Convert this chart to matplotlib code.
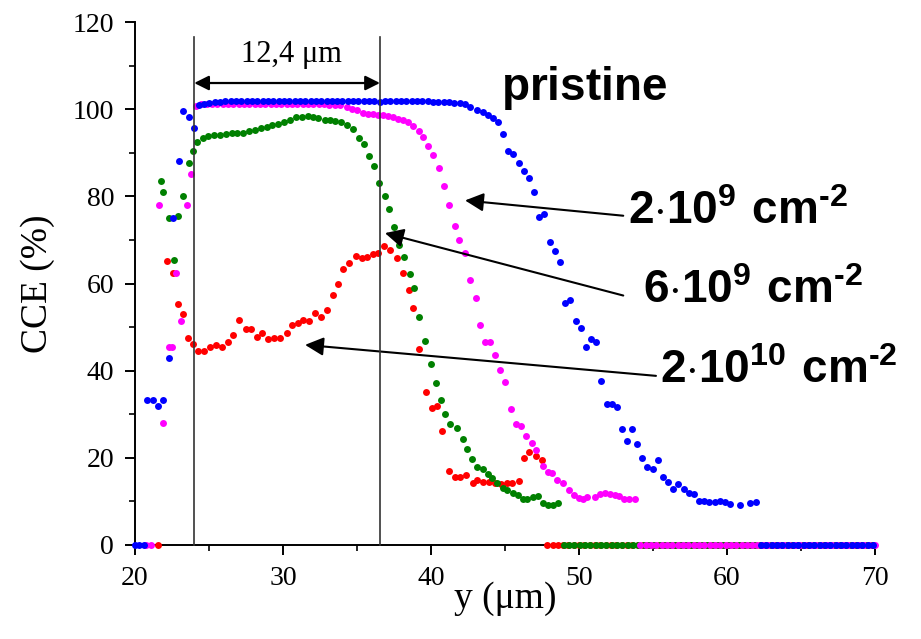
import matplotlib
matplotlib.use('Agg')
import matplotlib.pyplot as plt

# CCE profiles (x in um, CCE in %)
pristine_x = [20.83, 21.19, 21.55, 21.91, 22.27, 22.59, 22.97, 23.27, 23.65, 23.99,
              24.30, 24.66, 25.02, 25.38, 25.74, 26.10, 26.46, 26.82, 27.18, 27.54,
              27.90, 28.26, 28.62, 28.98, 29.34, 29.70, 30.06, 30.42, 30.78, 31.14,
              31.50, 31.86, 32.22, 32.58, 32.94, 33.30, 33.66, 34.02, 34.38, 34.74,
              35.10, 35.46, 35.82, 36.18, 36.54, 36.90, 37.26, 37.62, 37.98, 38.34,
              38.70, 39.06, 39.42, 39.78, 40.14, 40.50, 40.86, 41.22, 41.58, 41.94,
              42.30, 42.64, 43.09, 43.53, 43.87, 44.21, 44.50, 44.88, 45.22, 45.56,
              45.95, 46.28, 46.62, 46.96, 47.32, 47.64, 48.04, 48.40, 48.72, 49.05,
              49.39, 49.78, 50.11, 50.47, 50.79, 51.15, 51.51, 51.87, 52.21, 52.55,
              52.90, 53.24, 53.60, 53.94, 54.28, 54.62, 54.98, 55.32, 55.68, 56.02,
              56.38, 56.71, 57.07, 57.41, 57.75, 58.13, 58.47, 58.80, 59.17, 59.53,
              59.86, 60.22, 60.90, 61.58, 61.94]
pristine_y = [33.3, 33.3, 31.8, 33.3, 42.8, 75.0, 88.1, 99.5, 98.3, 95.7,
              101.0, 101.3, 101.5, 101.7, 101.7, 101.8, 101.8, 101.8, 101.8, 101.8,
              101.8, 101.8, 101.8, 101.8, 101.8, 101.8, 101.8, 101.8, 101.8, 101.8,
              101.8, 101.8, 101.8, 101.8, 101.8, 101.8, 101.8, 101.8, 101.8, 101.8,
              101.8, 101.8, 101.8, 101.8, 101.7, 101.8, 101.8, 101.8, 101.8, 101.8,
              101.8, 101.8, 101.8, 101.8, 101.7, 101.7, 101.7, 101.6, 101.5, 101.4,
              101.2, 100.5, 99.9, 99.3, 98.7, 98.0, 97.0, 94.3, 90.5, 89.8,
              87.6, 85.7, 84.2, 80.9, 75.2, 76.0, 69.5, 67.5, 65.0, 55.5,
              56.1, 51.3, 49.9, 45.5, 47.3, 46.5, 37.7, 32.4, 32.4, 31.6,
              26.7, 23.9, 26.6, 23.2, 20.0, 17.8, 17.4, 19.4, 15.5, 14.4,
              12.9, 13.9, 12.8, 11.9, 11.7, 10.1, 10.1, 9.9, 9.9, 10.2,
              9.9, 9.3, 9.1, 9.6, 9.9]
pristine_zero_x = [20.00, 20.30, 20.60,
                   62.30, 62.66, 63.02, 63.38, 63.74, 64.10, 64.46, 64.82, 65.18, 65.54,
                   65.90, 66.26, 66.62, 66.98, 67.34, 67.70, 68.06, 68.42, 68.78, 69.14,
                   69.50, 69.86]

f2e9_x = [21.64, 21.91, 22.27, 22.50, 22.77, 23.11, 23.51, 23.78, 24.12,
          24.48, 24.84, 25.20, 25.56, 25.92, 26.28, 26.64, 27.00, 27.36, 27.72,
          28.08, 28.44, 28.80, 29.16, 29.52, 29.88, 30.24, 30.60, 30.96, 31.32,
          31.68, 32.04, 32.40, 32.76, 33.12, 33.48, 33.84, 34.30, 34.66, 35.02,
          35.38, 35.74, 36.10, 36.44, 36.78, 37.10, 37.45, 37.80, 38.13, 38.47,
          38.80, 39.19, 39.48, 39.82, 40.11, 40.54, 40.88, 41.22, 41.62, 41.91,
          42.28, 42.64, 43.06, 43.31, 43.67, 43.99, 44.34, 44.66, 44.98, 45.43,
          45.74, 46.08, 46.42, 46.80, 47.09, 47.59, 47.93, 48.15, 48.54, 48.94,
          49.30, 49.66, 50.02, 50.29, 50.56, 51.06, 51.42, 51.76, 52.09, 52.43,
          52.72, 53.04, 53.40, 53.78]
f2e9_y = [78.1, 27.9, 45.4, 45.4, 62.5, 51.5, 77.9, 85.1, 100.8,
          101.2, 101.2, 101.3, 101.3, 101.3, 101.3, 101.3, 101.3, 101.3, 101.3,
          101.3, 101.3, 101.3, 101.3, 101.3, 101.3, 101.3, 101.2, 101.2, 101.2,
          101.2, 101.2, 101.1, 101.1, 101.0, 101.0, 100.9, 100.6, 100.1, 99.7,
          99.2, 99.0, 98.9, 98.7, 98.6, 98.4, 98.2, 97.7, 97.4, 97.0,
          96.2, 95.1, 93.6, 91.6, 89.4, 86.6, 82.3, 78.1, 73.1, 69.9,
          67.1, 60.7, 56.6, 50.4, 46.5, 46.5, 43.5, 40.1, 37.3, 31.2,
          27.8, 27.2, 24.9, 23.3, 21.8, 18.2, 16.8, 16.6, 14.9, 14.2,
          12.6, 11.5, 10.7, 10.6, 10.9, 11.1, 11.6, 12.0, 11.7, 11.4,
          11.3, 10.6, 10.6, 10.6]
f2e9_zero_x = [20.72, 21.08,
               54.14, 54.50, 54.86, 55.22, 55.58, 55.94, 56.30, 56.66, 57.02, 57.38,
               57.74, 58.10, 58.46, 58.82, 59.18, 59.54, 59.90, 60.26, 60.62, 60.98,
               61.34, 61.70, 62.06, 62.42, 62.78, 63.14, 63.50, 63.86, 64.22, 64.58,
               64.94, 65.30, 65.66, 66.02, 66.38, 66.74, 67.10, 67.46, 67.82, 68.18,
               68.54, 68.90, 69.26, 69.62, 69.98]

f6e9_x = [21.76, 21.91, 22.30, 22.61, 22.93, 23.27, 23.63, 23.94, 24.16, 24.57,
          24.95, 25.34, 25.74, 26.15, 26.53, 26.91, 27.32, 27.70, 28.11, 28.49,
          28.90, 29.28, 29.68, 30.07, 30.47, 30.86, 31.26, 31.71, 32.05, 32.39,
          32.84, 33.18, 33.51, 33.90, 34.30, 34.75, 35.16, 35.47, 35.79, 36.15,
          36.51, 36.89, 37.18, 37.50, 37.86, 38.18, 38.58, 38.87, 39.19, 39.59,
          39.98, 40.32, 40.68, 40.95, 41.28, 41.78, 42.14, 42.41, 42.75, 43.09,
          43.53, 43.87, 44.10, 44.43, 44.84, 45.15, 45.52, 45.86, 46.20, 46.51,
          46.87, 47.21, 47.55, 47.89, 48.22, 48.60]
f6e9_y = [83.6, 80.9, 75.0, 65.3, 75.6, 80.0, 87.7, 90.5, 92.4, 93.4,
          93.8, 94.0, 94.1, 94.3, 94.5, 94.5, 94.5, 94.9, 95.3, 95.7,
          96.0, 96.4, 96.6, 97.0, 97.4, 98.1, 98.3, 98.5, 98.3, 98.0,
          97.6, 97.4, 97.2, 97.0, 96.4, 95.5, 93.4, 92.0, 89.2, 87.0,
          83.1, 80.0, 77.1, 72.9, 68.9, 66.1, 62.2, 58.9, 52.2, 46.8,
          41.5, 37.1, 33.3, 30.0, 27.7, 26.9, 24.3, 22.0, 19.7, 17.8,
          17.5, 16.3, 15.3, 14.2, 13.0, 12.6, 11.9, 11.5, 10.6, 10.5,
          11.0, 11.3, 9.6, 9.2, 9.2, 9.6]
f6e9_zero_x = [48.96, 49.32, 49.68, 50.04, 50.40, 50.76, 51.12, 51.48, 51.84, 52.20,
               52.56, 52.92, 53.28, 53.64, 54.00, 54.36, 54.72, 55.08, 55.44, 55.80,
               56.16, 56.52, 56.88, 57.24, 57.60, 57.96, 58.32, 58.68, 59.04, 59.40,
               59.76, 60.12, 60.48, 60.84, 61.20, 61.56, 61.92, 62.28, 62.64, 63.00,
               63.36, 63.72, 64.08, 64.44, 64.80, 65.16, 65.52, 65.88, 66.24, 66.60,
               66.96, 67.32, 67.68, 68.04, 68.40, 68.76, 69.12, 69.48, 69.84]

f2e10_x = [22.14, 22.54, 22.93, 23.22, 23.56, 23.92, 24.28, 24.66, 25.07, 25.47,
           25.88, 26.26, 26.60, 27.03, 27.50, 27.84, 28.22, 28.60, 29.01, 29.41,
           29.80, 30.25, 30.63, 30.99, 31.37, 31.76, 32.16, 32.55, 32.95, 33.36,
           33.74, 34.08, 34.48, 34.91, 35.32, 35.66, 36.06, 36.44, 36.84, 37.20,
           37.68, 38.13, 38.51, 38.81, 39.21, 39.64, 40.04, 40.38, 40.72, 41.24,
           41.62, 41.96, 42.36, 42.82, 43.09, 43.53, 43.94, 44.32, 44.73, 45.11,
           45.45, 45.95, 46.28, 46.64, 47.07, 47.48]
f2e10_y = [65.1, 62.4, 55.3, 53.1, 47.6, 46.2, 44.4, 44.6, 45.5, 45.8,
           45.4, 46.5, 48.2, 51.7, 49.5, 49.5, 47.8, 48.6, 47.2, 47.5,
           47.5, 48.6, 50.4, 50.9, 51.7, 51.4, 53.2, 52.4, 54.0, 57.4,
           59.9, 63.3, 64.7, 66.4, 65.8, 66.1, 66.8, 67.1, 68.7, 67.6,
           65.8, 62.5, 58.6, 54.4, 45.0, 35.0, 31.4, 31.8, 26.2, 17.0,
           15.5, 15.5, 16.1, 14.3, 14.8, 14.4, 14.4, 14.2, 13.9, 14.2,
           14.2, 14.7, 19.9, 21.3, 20.5, 19.5]
f2e10_zero_x = [21.58,
                47.85, 48.21, 48.57, 48.93, 49.29, 49.65, 50.01, 50.37, 50.73, 51.09,
                51.45, 51.81, 52.17, 52.53, 52.89, 53.25, 53.61, 53.97, 54.33, 54.69,
                55.05, 55.41, 55.77, 56.13, 56.49, 56.85, 57.21, 57.57, 57.93, 58.29,
                58.65, 59.01, 59.37, 59.73, 60.09, 60.45, 60.81, 61.17, 61.53, 61.89,
                62.25, 62.61, 62.97, 63.33, 63.69, 64.05, 64.41, 64.77, 65.13, 65.49,
                65.85, 66.21, 66.57, 66.93, 67.29, 67.65, 68.01, 68.37, 68.73, 69.09,
                69.45, 69.81]

# edges of the marked region and the labels
region_edges = [24.0, 36.55]
region_label = '12,4 \u03bcm'

plt.rcParams['font.family'] = ['Liberation Serif', 'DejaVu Serif']
plt.rcParams['mathtext.fontset'] = 'custom'
plt.rcParams['mathtext.rm'] = 'Liberation Sans'
plt.rcParams['mathtext.bf'] = 'Liberation Sans:bold'

fig = plt.figure(figsize=(9.21, 6.39), dpi=100)
ax = fig.add_axes([135 / 921, 94 / 639, 740 / 921, 523 / 639])

ms = 5.0
# drawn in this order so blue ends up on top of the zero row
series = [
    (f2e10_x, f2e10_y, f2e10_zero_x, '#ff0000'),
    (f6e9_x, f6e9_y, f6e9_zero_x, '#008000'),
    (f2e9_x, f2e9_y, f2e9_zero_x, '#ff00ff'),
    (pristine_x, pristine_y, pristine_zero_x, '#0000ff'),
]
for x, y, zx, col in series:
    ax.plot(zx, [0] * len(zx), 'o', ms=ms, color=col, mec='none', clip_on=False, zorder=3)
    ax.plot(x, y, 'o', ms=ms, color=col, mec='none', clip_on=False, zorder=3)

# vertical lines and the double arrow between them
for xe in region_edges:
    ax.plot([xe, xe], [0, 116.6], color='#333333', lw=1.2, zorder=4, clip_on=False)
ax.annotate('', xy=(region_edges[0], 106), xytext=(region_edges[1], 106),
            arrowprops=dict(arrowstyle='<|-|>', color='black', lw=1.6,
                            mutation_scale=22, shrinkA=0, shrinkB=0))
ax.text(30.6, 112.6, region_label, fontsize=22, ha='center', va='center')

# labels with arrows (hyphen instead of the long minus, as in the picture)
bold = dict(fontsize=33, ha='left', va='baseline', clip_on=False)
ax.text(44.73, 102.2, r'$\mathbf{pristine}$', **bold)
ax.text(53.34, 73.7, '$\\mathbf{2{\\cdot}10^{9}\\ cm^{\u20102}}$', **bold)
ax.text(54.32, 55.6, '$\\mathbf{6{\\cdot}10^{9}\\ cm^{\u20102}}$', **bold)
ax.text(55.47, 37.2, '$\\mathbf{2{\\cdot}10^{10}\\ cm^{\u20102}}$', **bold)

arrow = dict(arrowstyle='-|>', color='black', lw=1.5, mutation_scale=28,
             shrinkA=0, shrinkB=0)
ax.annotate('', xy=(42.30, 79.06), xytext=(52.99, 75.55), arrowprops=arrow)
ax.annotate('', xy=(36.89, 71.57), xytext=(52.99, 57.24), arrowprops=arrow)
ax.annotate('', xy=(31.49, 45.92), xytext=(55.20, 38.81), arrowprops=arrow)

# axes
ax.set_xlim(20, 70)
ax.set_ylim(0, 120)
ax.set_xticks([20, 30, 40, 50, 60, 70])
ax.set_xticks([25, 35, 45, 55, 65], minor=True)
ax.set_yticks([0, 20, 40, 60, 80, 100, 120])
ax.set_yticks([10, 30, 50, 70, 90, 110], minor=True)
ax.spines['top'].set_visible(False)
ax.spines['right'].set_visible(False)
for s in ['left', 'bottom']:
    ax.spines[s].set_linewidth(1.4)
ax.tick_params(which='major', direction='out', length=7, width=1.4, labelsize=20)
ax.tick_params(axis='x', which='major', pad=8)
ax.tick_params(axis='y', which='major', pad=8)
ax.tick_params(which='minor', direction='out', length=4, width=1.2)
ax.set_xlabel('y (\u03bcm)', fontsize=27, labelpad=-7)
ax.set_ylabel('CCE (%)', fontsize=27, labelpad=13)

fig.savefig('out.png', dpi=100)
